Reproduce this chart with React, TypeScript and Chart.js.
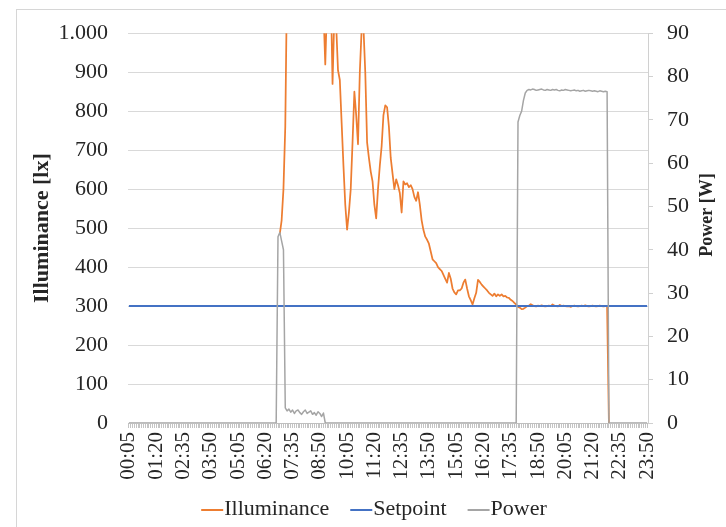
import React, { useEffect, useRef } from 'react';
import { Chart, registerables } from 'chart.js';

Chart.register(...registerables);

// Categories: every 5 minutes from 00:05 to 23:50
const categories: string[] = [];
for (let m = 5; m <= 1430; m += 5) {
  const h = Math.floor(m / 60);
  const mm = m % 60;
  categories.push(`${String(h).padStart(2, '0')}:${String(mm).padStart(2, '0')}`);
}
const labelEvery = 15;

const illuminanceTicks = [0, 100, 200, 300, 400, 500, 600, 700, 800, 900, 1000];
const powerTicks = [0, 10, 20, 30, 40, 50, 60, 70, 80, 90];

const setpointValue = 300;

const _ = null;

// Illuminance [lx] (values above 1000 are clipped by the axis; null = no reading drawn)
const illuminance: (number | null)[] = [
  _, _, _, _, _, _, _, _, _, _, _, _, _, _, _, _, _, _, _, _,
  _, _, _, _, _, _, _, _, _, _, _, _, _, _, _, _, _, _, _, _,
  _, _, _, _, _, _, _, _, _, _, _, _, _, _, _, _, _, _, _, _,
  _, _, _, _, _, _, _, _, _, _, _, _, _, _, _, _, _, _, _, _,
  _, _, _,
  485, 520, 600, 760, 1150, 1300, 1350, 1400, 1380, 1420,
  1450, 1400, 1380, 1350, 1300, 1320, 1280, 1250, 1200, 1220,
  1180, 1150, 1120, 1100, 1060, 920, 1080, 1150, 1120, 870,
  1050, 1020, 905, 880, 770, 660, 560, 496, 540, 600,
  720, 850, 790, 715, 900, 1010, 1015, 900, 720, 680,
  645, 620, 560, 525, 600, 660, 710, 790, 815, 810,
  760, 680, 640, 600, 625, 610, 590, 540, 620, 612,
  615, 605, 610, 600, 580, 570, 592, 560, 520, 495,
  478, 470, 460, 440, 420, 415, 410, 400, 395, 390,
  380, 370, 360, 385, 370, 345, 335, 330, 340, 340,
  345, 360, 368, 345, 325, 315, 304, 320, 334, 367,
  362, 355, 350, 345, 340, 334, 330, 326, 332, 325,
  330, 326, 330, 325, 326, 322, 321, 316, 313, 308,
  304, 298, 296, 292, 293, 296, 300, 301, 305, 302,
  300, 299, 301, 300, 302, 300, 299, 300, 301, 300,
  304, 301, 300, 299, 303, 300, 301, 300, 299, 300,
  298, 300, 301, 300, 299, 300, 301, 300, 302, 300,
  299, 300, 301, 300, 299, 300, 301, 300, 299, 300,
  300,
  0, _, _, _, _, _, _, _, _, _, _, _, _, _, _, _, _, _, _, _, _, _,
];

// Power [W]
const power: number[] = [
  0, 0, 0, 0, 0, 0, 0, 0, 0, 0, 0, 0, 0, 0, 0, 0, 0, 0, 0, 0,
  0, 0, 0, 0, 0, 0, 0, 0, 0, 0, 0, 0, 0, 0, 0, 0, 0, 0, 0, 0,
  0, 0, 0, 0, 0, 0, 0, 0, 0, 0, 0, 0, 0, 0, 0, 0, 0, 0, 0, 0,
  0, 0, 0, 0, 0, 0, 0, 0, 0, 0, 0, 0, 0, 0, 0, 0, 0, 0, 0, 0,
  0, 0,
  43, 44, 42, 40, 3.5, 2.8, 3.2, 2.5, 3, 2.2,
  2.8, 3, 2.4, 2, 2.6, 3, 2.2, 2.5, 2.8, 2,
  2.4, 1.8, 2.6, 2.2, 1.5, 2.3,
  0, 0, 0, 0, 0, 0, 0, 0, 0, 0, 0, 0, 0, 0, 0, 0, 0, 0, 0, 0,
  0, 0, 0, 0, 0, 0, 0, 0, 0, 0, 0, 0, 0, 0, 0, 0, 0, 0, 0, 0,
  0, 0, 0, 0, 0, 0, 0, 0, 0, 0, 0, 0, 0, 0, 0, 0, 0, 0, 0, 0,
  0, 0, 0, 0, 0, 0, 0, 0, 0, 0, 0, 0, 0, 0, 0, 0, 0, 0, 0, 0,
  0, 0, 0, 0, 0, 0, 0, 0, 0, 0, 0, 0, 0, 0, 0, 0, 0, 0, 0, 0,
  0, 0, 0, 0, 0, 0,
  69.5, 71, 72, 74.5, 76.2,
  76.8, 77, 76.9, 77.1, 77, 76.8, 76.9, 77, 77.1, 76.9,
  76.8, 77, 76.9, 76.8, 77, 76.9, 77, 76.8, 76.7, 76.9,
  76.8, 77, 76.9, 76.8, 76.7, 76.8, 76.9, 76.7, 76.8, 76.6,
  76.7, 76.8, 76.6, 76.7, 76.8, 76.7, 76.6, 76.7, 76.6, 76.5,
  76.7, 76.6, 76.5, 76.6, 76.5,
  0, 0, 0, 0, 0, 0, 0, 0, 0, 0, 0, 0, 0, 0, 0, 0, 0, 0, 0, 0, 0, 0,
];

const setpoint: number[] = categories.map(() => setpointValue);

const FONT = '"Liberation Serif", "Times New Roman", Times, serif';
const TEXT = '#262626';

const formatThousands = (v: number) =>
  v >= 1000 ? `${Math.floor(v / 1000)}.${String(v % 1000).padStart(3, '0')}` : String(v);

const decorPlugin = {
  id: 'decor',
  afterDraw(chart: any) {
    const { ctx, chartArea } = chart;
    ctx.save();
    ctx.fillStyle = TEXT;
    ctx.textAlign = 'center';
    ctx.textBaseline = 'middle';

    // Left axis title
    ctx.save();
    ctx.font = `bold 22px ${FONT}`;
    ctx.translate(42, (chartArea.top + chartArea.bottom) / 2);
    ctx.rotate(-Math.PI / 2);
    ctx.fillText('Illuminance [lx]', 0, 0);
    ctx.restore();

    // Right axis title
    ctx.save();
    ctx.font = `bold 18px ${FONT}`;
    ctx.translate(707, (chartArea.top + chartArea.bottom) / 2 - 13);
    ctx.rotate(-Math.PI / 2);
    ctx.fillText('Power [W]', 0, 0);
    ctx.restore();

    // Legend
    const items = [0, 1, 2].map((i) => ({
      text: chart.data.datasets[i].label as string,
      color: chart.data.datasets[i].borderColor as string,
    }));
    ctx.font = `22px ${FONT}`;
    const lineLen = 22;
    const gap = 1;
    const itemGap = 21;
    const widths = items.map((it) => ctx.measureText(it.text).width);
    const total = widths.reduce((a, w) => a + lineLen + gap + w, 0) + itemGap * (items.length - 1);
    let x = 374 - total / 2;
    const y = 509;
    ctx.textAlign = 'left';
    items.forEach((it, i) => {
      ctx.strokeStyle = it.color;
      ctx.lineWidth = 2;
      ctx.beginPath();
      ctx.moveTo(x, y + 1);
      ctx.lineTo(x + lineLen, y + 1);
      ctx.stroke();
      x += lineLen + gap;
      ctx.fillStyle = TEXT;
      ctx.fillText(it.text, x, y);
      x += widths[i] + itemGap;
    });
    ctx.restore();
  },
};

export default function App() {
  const ref = useRef<HTMLCanvasElement | null>(null);

  useEffect(() => {
    if (!ref.current) return;
    const chart = new Chart(ref.current, {
      type: 'line',
      data: {
        labels: categories,
        datasets: [
          {
            label: 'Illuminance',
            data: illuminance,
            borderColor: '#ED7D31',
            backgroundColor: '#ED7D31',
            borderWidth: 1.75,
            pointRadius: 0,
            yAxisID: 'y',
            order: 3,
            spanGaps: false,
          },
          {
            label: 'Setpoint',
            data: setpoint,
            borderColor: '#4472C4',
            backgroundColor: '#4472C4',
            borderWidth: 2,
            pointRadius: 0,
            yAxisID: 'y',
            order: 2,
          },
          {
            label: 'Power',
            data: power,
            borderColor: '#A5A5A5',
            backgroundColor: '#A5A5A5',
            borderWidth: 1.5,
            pointRadius: 0,
            yAxisID: 'y1',
            order: 1,
          },
        ],
      },
      options: {
        responsive: false,
        animation: false,
        devicePixelRatio: 1,
        layout: { padding: { top: 28, left: 0, right: 0, bottom: 0 } },
        plugins: { legend: { display: false }, tooltip: { enabled: false } },
        elements: { line: { tension: 0, borderJoinStyle: 'round' } },
        scales: {
          x: {
            type: 'category',
            offset: true,
            grid: { drawOnChartArea: false, drawTicks: true, tickLength: 5, color: '#c4c4c4' },
            border: { display: true, color: '#bfbfbf' },
            ticks: {
              autoSkip: false,
              minRotation: 90,
              maxRotation: 90,
              padding: 4,
              color: TEXT,
              font: { family: FONT, size: 21 },
              callback: (_v: any, i: number) => (i % labelEvery === 0 ? categories[i] : ''),
            },
            afterFit: (s: any) => {
              s.height = 104;
            },
          },
          y: {
            position: 'left',
            min: illuminanceTicks[0],
            max: illuminanceTicks[illuminanceTicks.length - 1],
            afterBuildTicks: (s: any) => {
              s.ticks = illuminanceTicks.map((v) => ({ value: v }));
            },
            ticks: {
              padding: 20,
              color: TEXT,
              font: { family: FONT, size: 22 },
              callback: (v: any) => formatThousands(Number(v)),
            },
            grid: { color: '#d9d9d9', drawTicks: false, lineWidth: 1 },
            border: { display: false },
            afterFit: (s: any) => {
              s.width = 128;
            },
          },
          y1: {
            position: 'right',
            min: powerTicks[0],
            max: powerTicks[powerTicks.length - 1],
            afterBuildTicks: (s: any) => {
              s.ticks = powerTicks.map((v) => ({ value: v }));
            },
            ticks: {
              padding: 14,
              color: TEXT,
              font: { family: FONT, size: 22 },
            },
            grid: { drawOnChartArea: false, drawTicks: true, tickLength: 5, color: '#d0d0d0' },
            border: { display: true, color: '#d0d0d0' },
            afterFit: (s: any) => {
              s.width = 78;
            },
          },
        },
      } as any,
      plugins: [decorPlugin],
    });
    return () => chart.destroy();
  }, []);

  return (
    <div
      style={{
        position: 'absolute',
        left: 0,
        top: 0,
        width: 726,
        height: 527,
        background: '#ffffff',
        overflow: 'hidden',
      }}
    >
      <div
        style={{
          position: 'absolute',
          left: 16,
          top: 9,
          width: 800,
          height: 600,
          borderLeft: '1px solid #d6d6d6',
          borderTop: '1px solid #d6d6d6',
        }}
      />
      <canvas
        ref={ref}
        width={726}
        height={527}
        style={{ position: 'absolute', left: 0, top: 0, width: 726, height: 527 }}
      />
    </div>
  );
}
